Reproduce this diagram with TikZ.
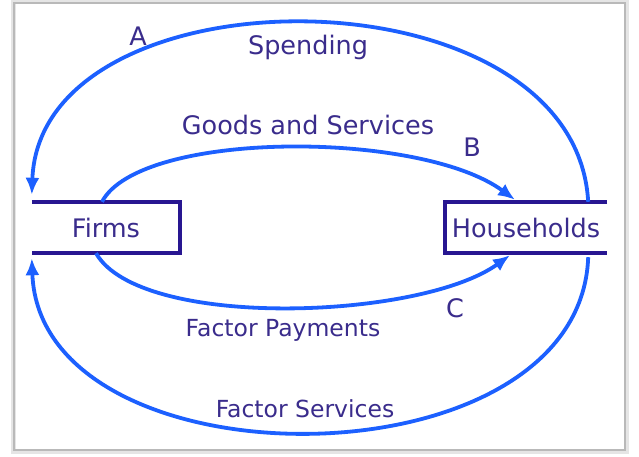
\documentclass[tikz,border=0pt]{standalone}
\usepackage{fontspec}
\setmainfont{DejaVu Sans}
\usetikzlibrary{arrows.meta}
\definecolor{flowblue}{RGB}{28,96,255}
\definecolor{labelink}{RGB}{58,44,140}
\definecolor{boxink}{RGB}{40,22,145}
\tikzset{
  sector/.style={minimum width=#1, minimum height=51pt, inner sep=0pt, text=labelink, font=\fontsize{25.5}{30}\selectfont},
  flow/.style={flowblue, line width=3.8pt, -{Latex[length=17pt,width=14pt]}},
  big/.style={text=labelink, font=\fontsize{25.5}{30}\selectfont},
  small/.style={text=labelink, font=\fontsize{23.5}{28}\selectfont}
}
\begin{document}
\begin{tikzpicture}[x=1pt, y=-1pt]
\useasboundingbox (0,0) rectangle (639,457);
% frame with soft shadow
\draw[gray!20, line width=6pt] (14,3) rectangle (626,451);
\draw[gray!55, line width=2.5pt] (14,3) rectangle (625,450);
\fill[white] (15.5,4.5) rectangle (623.5,448.5);

\node[sector=148pt] (firms) at (106,227.5) {Firms};
\node[sector=162pt] (households) at (526,227.5) {Households};
\draw[boxink, line width=3.5pt] (firms.north west)--(firms.north east)--(firms.south east)--(firms.south west);
\draw[boxink, line width=3.5pt] (households.north east)--(households.north west)--(households.south west)--(households.south east);

\draw[flow] ([xshift=-19pt]households.north east) .. controls (575,-35) and (40,-35) .. ([yshift=7pt]firms.north west);
\draw[flow] ([xshift=-4pt]firms.north) .. controls (140,130) and (420,130) .. ([xshift=-11pt,yshift=2pt]households.north);
\draw[flow] ([xshift=-10pt]firms.south) .. controls (140,330) and (420,320) .. ([xshift=-16pt,yshift=-2pt]households.south);
\draw[flow] ([xshift=-19pt,yshift=-4pt]households.south east) .. controls (580,490) and (40,490) .. ([yshift=-5pt]firms.south west);

\node[big] (spend) at (308,47) {Spending};
\node[big] (goods) at (308,125) {Goods and Services};
\node[small] (payments) at (283,330) {Factor Payments};
\node[small] (services) at (305,409) {Factor Services};
\node[big] (a) at (138,36) {A};
\node[big] (b) at (472,147) {B};
\node[big] (c) at (455,308) {C};
\end{tikzpicture}
\end{document}
